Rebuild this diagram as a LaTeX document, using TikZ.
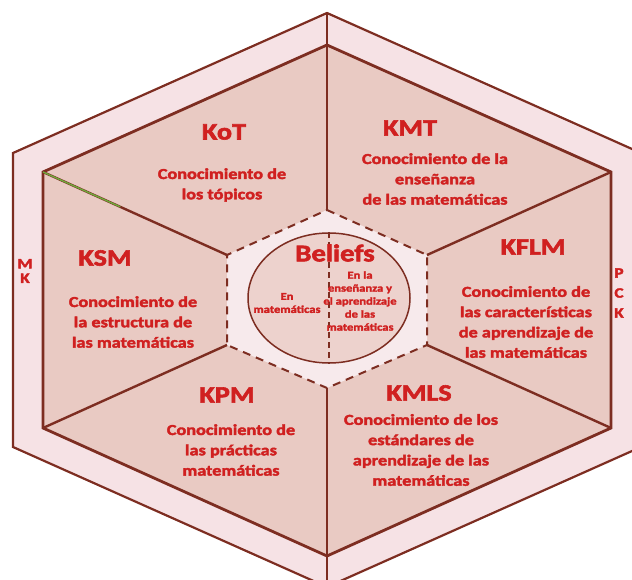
\documentclass[tikz,border=0pt]{standalone}
\usepackage{fontspec}
\setmainfont{Carlito}[FakeStretch=1.2, BoldFeatures={FakeBold=2.5}]
\usetikzlibrary{calc,shapes.geometric}
\definecolor{ring}{RGB}{246,226,229}
\definecolor{region}{RGB}{233,202,195}
\definecolor{core}{RGB}{247,234,236}
\definecolor{edge}{RGB}{125,45,33}
\definecolor{txt}{RGB}{208,32,32}
\definecolor{glitch}{RGB}{110,170,60}
\tikzset{
  head/.style={text=txt,inner sep=0pt,font=\bfseries\fontsize{23.5}{25}\selectfont},
  body/.style={text=txt,inner sep=0pt,align=center,font=\bfseries\fontsize{15.2}{20.3}\selectfont},
  tiny/.style={text=txt,inner sep=0pt,align=center,font=\bfseries\fontsize{10.5}{13}\selectfont},
  side/.style={text=txt,inner sep=0pt,align=center,font=\bfseries\fontsize{14.3}{14.5}\selectfont},
  outerline/.style={draw=edge,line width=2.2pt,line join=miter},
  innerline/.style={draw=edge,line width=2.8pt,line join=miter},
  divider/.style={draw=edge,line width=2.4pt},
  dashedhex/.style={draw=edge,line width=2pt,dash pattern=on 8pt off 6pt},
}
\begin{document}
\begin{tikzpicture}[x=1pt,y=-1pt]
\useasboundingbox (0,0) rectangle (632,580);
\clip (0,0) rectangle (632,580);
% outer hexagon
\coordinate (o1) at (327,13);
\coordinate (o2) at (641,153);
\coordinate (o3) at (641,447);
\coordinate (o4) at (327,587);
\coordinate (o5) at (13,447);
\coordinate (o6) at (13,153);
% inner hexagon
\coordinate (i1) at (327,45);
\coordinate (i2) at (611,172);
\coordinate (i3) at (611,428);
\coordinate (i4) at (327,556);
\coordinate (i5) at (43,428);
\coordinate (i6) at (43,172);
% centre hexagon
\coordinate (c1) at (327,210);
\coordinate (c2) at (427,255);
\coordinate (c3) at (427,345);
\coordinate (c4) at (327,388);
\coordinate (c5) at (227,345);
\coordinate (c6) at (227,255);

\path[fill=ring,outerline] (o1)--(o2)--(o3)--(o4)--(o5)--(o6)--cycle;
\path[fill=region,innerline] (i1)--(i2)--(i3)--(i4)--(i5)--(i6)--cycle;
\path[fill=core] (c1)--(c2)--(c3)--(c4)--(c5)--(c6)--cycle;
\draw[dashedhex] (c1)--(c2)--(c3)--(c4)--(c5)--(c6)--cycle;

% dividers
\draw[divider] (o1) -- (c1);
\draw[divider] (c4) -- (o4);
\draw[divider] (i6) -- (c6);
\draw[divider] (i5) -- (c5);
\draw[divider] (i2) -- (c2);
\draw[divider] (i3) -- (c3);
\draw[glitch,line width=1.4pt] (i6) -- ($(i6)!0.42!(c6)$);

% beliefs ellipse
\node[ellipse,draw=edge,line width=1.5pt,fill=region!75!core,minimum width=162pt,minimum height=130pt,inner sep=0pt] (bel) at (329,298) {};
\draw[draw=edge,line width=1.4pt,dash pattern=on 6pt off 4pt] (bel.north) -- (bel.south);

% texts
\node[head] (kot) at (224,132) {KoT};
\node[body] (kotb) at (222,185) {Conocimiento de\\los tópicos};
\node[head] (kmt) at (410,128) {KMT};
\node[body] (kmtb) at (435,179) {Conocimiento de la\\enseñanza\\de las matemáticas};
\node[head] (ksm) at (105,258) {KSM};
\node[body] (ksmb) at (133,322) {Conocimiento de\\la estructura de\\las matemáticas};
\node[head] (kflm) at (533,247) {KFLM};
\node[body] (kflmb) at (526,322) {Conocimiento de\\las características\\de aprendizaje de\\las matemáticas};
\node[head] (kpm) at (227,395) {KPM};
\node[body] (kpmb) at (231,450) {Conocimiento de\\las prácticas\\matemáticas};
\node[head] (kmls) at (419,393) {KMLS};
\node[body] (kmlsb) at (421,450) {Conocimiento de los\\estándares de\\aprendizaje de las\\matemáticas};
\node[text=txt,inner sep=0pt,font=\bfseries\fontsize{24}{25}\selectfont] (beliefs) at (335,253) {Beliefs};
\node[tiny] (enmat) at (287,303) {En\\matemáticas};
\node[tiny] (enens) at (360,301) {En la\\enseñanza y\\el aprendizaje\\de las\\matemáticas};
\node[side] (mk) at (25,271) {M\\K};
\node[side,font=\bfseries\fontsize{14.3}{20}\selectfont] (pck) at (619,293) {P\\C\\K};
\end{tikzpicture}
\end{document}
